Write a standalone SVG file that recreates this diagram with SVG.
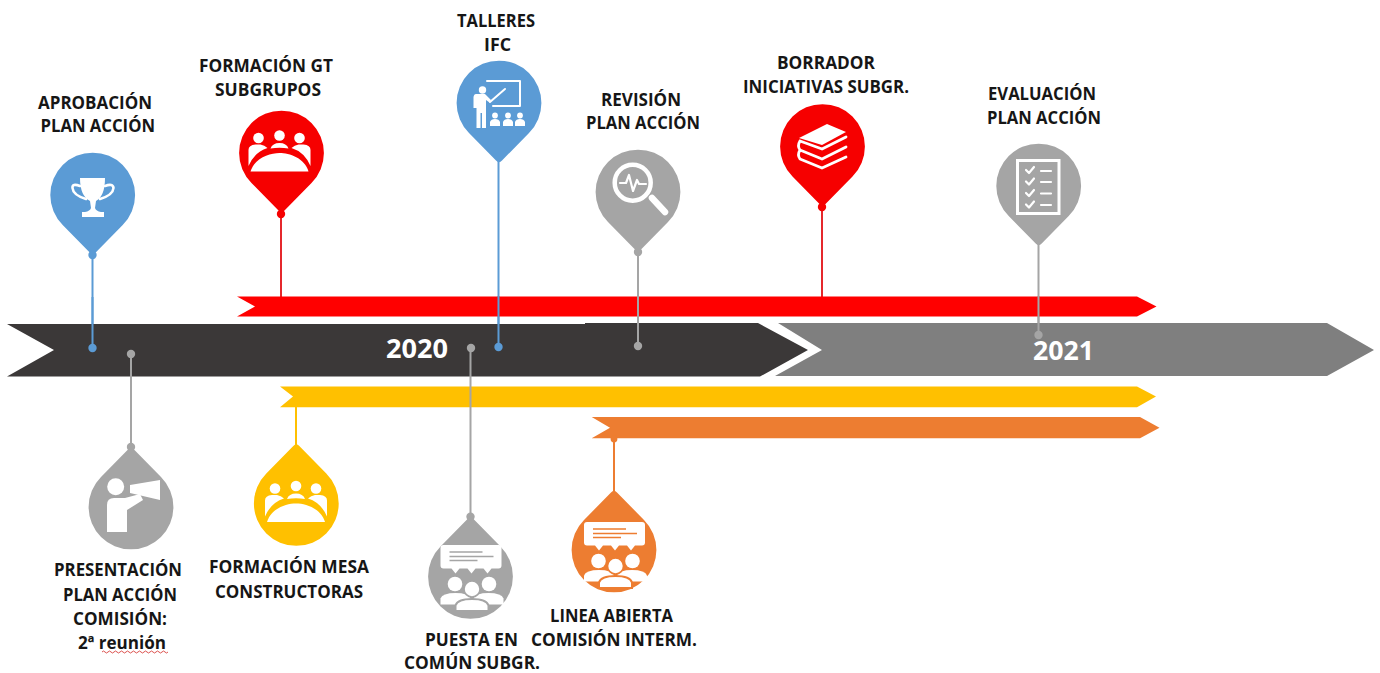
<svg xmlns="http://www.w3.org/2000/svg" width="1380" height="673" viewBox="0 0 1380 673">
<style>
.t{font-family:"Open Sans","Liberation Sans",sans-serif;font-weight:700;font-size:17.5px;fill:#161616}
.y{font-family:"Open Sans","Liberation Sans",sans-serif;font-weight:700;font-size:27px;fill:#fff}
.l{fill:none;stroke-width:2}
.ic{fill:#fff;stroke:none}
.icl{fill:none;stroke:#fff;stroke-linecap:round;stroke-linejoin:round}
.blue{color:#5b9bd5}.red{color:#f60000}.gray{color:#a5a5a5}.yellow{color:#ffc000}.orange{color:#ed7d31}
.pin{fill:currentColor}
</style>
<defs>
<path id="drop" d="M-30,30 A42.4,42.4 0 1 1 30,30 L3,57.5 Q0,61 -3,57.5 Z"/>
<g id="meeting">
<path class="ic" d="M-29,18.5 C-25,5 -10,0 0,0 C10,0 25,5 29,18.5 Z"/>
<circle class="ic" cx="-21" cy="-15" r="5.3"/><circle class="ic" cx="0" cy="-17.5" r="5.3"/><circle class="ic" cx="20" cy="-15" r="5.3"/>
<path class="ic" d="M-31,13 V-3 Q-31,-8 -24,-8.5 H-19 Q-15,-8 -12,-5 Q-25,-1 -31,13 Z"/>
<path class="ic" d="M31,13 V-3 Q31,-8 24,-8.5 H19 Q15,-8 12,-5 Q25,-1 31,13 Z"/>
<path class="ic" d="M-9,-4.5 Q-7,-10 0,-10 Q7,-10 9,-4.5 Q0,-6 -9,-4.5 Z"/>
</g>
<g id="chat">
<path class="ic" d="M-27,-31.5 H28 Q31,-31.5 31,-28.5 V-11 Q31,-8 28,-8 H21 L17,-3 L13,-8 H5 L1,-3 L-3,-8 H-11 L-15,-3 L-19,-8 H-27 Q-30,-8 -30,-11 V-28.5 Q-30,-31.5 -27,-31.5 Z"/>
<path fill="none" stroke="currentColor" stroke-width="1.3" d="M-21,-24.5 H12 M-21,-20 H23 M-21,-16 H7"/>
<circle class="ic" cx="-15.5" cy="7.5" r="7.3"/><circle class="ic" cx="18.5" cy="7.5" r="7.3"/>
<path class="ic" d="M-30,28 V22 Q-28,16.5 -15,16.5 Q-2,16.5 0,22 V28 Z"/>
<path class="ic" d="M3,28 V22 Q5,16.5 18,16.5 Q31,16.5 33,22 V28 Z"/>
<circle cx="1.5" cy="12.5" r="8" fill="#fff" stroke="currentColor" stroke-width="1.6"/>
<path d="M-15,34.5 V29 Q-13,22.5 1.5,22.5 Q16,22.5 18,29 V34.5 Z" fill="#fff" stroke="currentColor" stroke-width="2"/>
</g>
</defs>

<g id="connectors">
<path class="l" stroke="#5b9bd5" d="M92.5,250 V348"/>
<path class="l" stroke="#e5282c" d="M281,210 V298"/>
<path class="l" stroke="#5b9bd5" d="M498.5,158 V347"/>
<path class="l" stroke="#a5a5a5" d="M638,248 V346"/>
<path class="l" stroke="#e5282c" d="M822,205 V298"/>
<path class="l" stroke="#a5a5a5" d="M1038.5,242 V335"/>
</g>

<g id="bar-rojo"><path fill="#ff0000" d="M237,296.5 H1137 L1156.5,306.5 L1137,316.5 H237 L255,306.5 Z"/></g>
<g id="bar-2020"><path fill="#3b3838" d="M7,324 H585 V323 H758 L808,350 L760,376.5 H7 L54,350 Z"/></g>
<g id="bar-2021"><path fill="#7f7f7f" d="M778,323 H1327 L1374,350 L1327,376 H775 L822,350 Z"/></g>
<g id="bar-amarillo"><path fill="#ffc000" d="M280,386.5 H1137 L1156,396.5 L1137,407.3 H280 L293,396.5 Z"/></g>
<g id="bar-naranja"><path fill="#ed7d31" d="M591.7,417 H1140 L1159.5,427.7 L1140,438.3 H591.7 L610,427.7 Z"/></g>

<g id="connectors-2">
<path class="l" stroke="#5b9bd5" d="M92.5,297 V348"/>
<circle cx="92.5" cy="348" r="4.2" fill="#5b9bd5"/>
<path class="l" stroke="#5b9bd5" d="M498.5,296 V347"/>
<circle cx="498.5" cy="347" r="4.2" fill="#5b9bd5"/>
<path class="l" stroke="#a5a5a5" d="M638,296 V346"/>
<circle cx="638" cy="346" r="4.2" fill="#a5a5a5"/>
<path class="l" stroke="#a5a5a5" d="M1038.5,296 V335"/>
<circle cx="1038.5" cy="335" r="4.2" fill="#a5a5a5"/>
<path class="l" stroke="#a5a5a5" d="M131,353 V450"/>
<circle cx="131" cy="354" r="4.2" fill="#a5a5a5"/>
<path class="l" stroke="#ffc000" d="M296,407 V450"/>
<path class="l" stroke="#a5a5a5" d="M470.5,349 V520"/>
<circle cx="471" cy="348" r="4.2" fill="#a5a5a5"/>
<path class="l" stroke="#ed7d31" d="M614,438 V495"/>
<circle cx="614" cy="439" r="3.4" fill="#ed7d31"/>
</g>

<g id="year-2020"><text class="y" x="386" y="358" textLength="62" lengthAdjust="spacingAndGlyphs">2020</text></g>
<g id="year-2021"><text class="y" x="1033" y="360" textLength="61" lengthAdjust="spacingAndGlyphs">2021</text></g>

<g id="aprobacion" class="blue">
<use href="#drop" class="pin" transform="translate(92.7,195)"/>
<circle class="pin" cx="92.5" cy="255" r="4.2"/>
<path class="ic" d="M80,178 H105 Q105,196 96,201 L95,208 Q96,211 101,212 H104 V217 H82 V212 H85 Q90,211 91,208 L90,201 Q80,196 80,178 Z"/>
<path class="icl" stroke-width="2.6" d="M80,186 Q72,183 72.5,188 Q73,195 86,199 M105,186 Q113,183 113.5,188 Q113,195 100,199"/>
<text class="t" x="38" y="108.5" textLength="114" lengthAdjust="spacingAndGlyphs">APROBACIÓN</text>
<text class="t" x="40.5" y="132" textLength="114.5" lengthAdjust="spacingAndGlyphs">PLAN ACCIÓN</text>
</g>

<g id="formacion-gt" class="red">
<use href="#drop" class="pin" transform="translate(281.5,153)"/>
<circle class="pin" cx="281" cy="214" r="4.2"/>
<use href="#meeting" transform="translate(279.5,153)"/>
<text class="t" x="199" y="72" textLength="134" lengthAdjust="spacingAndGlyphs">FORMACIÓN GT</text>
<text class="t" x="215" y="96" textLength="106" lengthAdjust="spacingAndGlyphs">SUBGRUPOS</text>
</g>

<g id="talleres" class="blue">
<use href="#drop" class="pin" transform="translate(499,103)"/>
<path class="icl" stroke-width="2" stroke-linecap="butt" d="M487,81 H520 V106 H493"/>
<path class="icl" stroke-width="2" d="M490,102 L505,89"/>
<circle class="ic" cx="482.5" cy="90" r="3.7"/>
<path class="ic" d="M476,94 H485 L491,100 L489.5,102.5 L486,100 V128 H482 V113 H480.5 V128 H476.5 V108 H473.5 V97 Q474,94 476,94 Z"/>
<circle class="ic" cx="495" cy="115.5" r="2.9"/><circle class="ic" cx="508" cy="115.5" r="2.9"/><circle class="ic" cx="520" cy="115.5" r="2.9"/>
<path class="ic" d="M490,126 V122 Q491,119 495,119 Q499,119 500,122 V126 Z M503,126 V122 Q504,119 508,119 Q512,119 513,122 V126 Z M515,126 V122 Q516,119 520,119 Q524,119 525,122 V126 Z"/>
<text class="t" x="457" y="27" textLength="78" lengthAdjust="spacingAndGlyphs">TALLERES</text>
<text class="t" x="484" y="51" textLength="27" lengthAdjust="spacingAndGlyphs">IFC</text>
</g>

<g id="revision" class="gray">
<use href="#drop" class="pin" transform="translate(638,192)"/>
<circle class="pin" cx="638" cy="252" r="4.2"/>
<circle class="icl" cx="632.7" cy="182.7" r="18" stroke-width="4.5"/>
<path class="icl" stroke-width="2.2" d="M620,183 H626 L629,175 L633,191 L637,180 L639,184 H646"/>
<path class="icl" stroke-width="6.5" d="M652,198 L665,212"/>
<text class="t" x="601" y="106" textLength="80" lengthAdjust="spacingAndGlyphs">REVISIÓN</text>
<text class="t" x="586" y="129" textLength="114" lengthAdjust="spacingAndGlyphs">PLAN ACCIÓN</text>
</g>

<g id="borrador" class="red">
<use href="#drop" class="pin" transform="translate(822.5,146.5)"/>
<circle class="pin" cx="822" cy="207" r="4.2"/>
<path class="ic" d="M799,138 L827,124 L846,132 L822,145 Z"/>
<path class="icl" stroke-width="2.8" d="M800,141 L822,149 L846,137 M800,141 Q797,146 800,150 L822,159 L846,147 M800,150 Q797,155 800,159 L822,168 L846,157"/>
<text class="t" x="777" y="69" textLength="98" lengthAdjust="spacingAndGlyphs">BORRADOR</text>
<text class="t" x="743" y="93" textLength="166" lengthAdjust="spacingAndGlyphs">INICIATIVAS SUBGR.</text>
</g>

<g id="evaluacion" class="gray">
<use href="#drop" class="pin" transform="translate(1038.7,186)"/>
<rect x="1017.5" y="160.5" width="41.5" height="53" fill="none" stroke="#fff" stroke-width="3"/>
<path class="icl" stroke-width="2.2" d="M1026,170 L1029,173 L1034,167 M1026,181.5 L1029,184.5 L1034,178.5 M1026,193 L1029,196 L1034,190 M1026,204.5 L1029,207.5 L1034,201.5 M1041,171 H1051 M1041,182 H1051 M1041,193.5 H1051 M1041,205 H1051"/>
<text class="t" x="988" y="100" textLength="108" lengthAdjust="spacingAndGlyphs">EVALUACIÓN</text>
<text class="t" x="987" y="124" textLength="114" lengthAdjust="spacingAndGlyphs">PLAN ACCIÓN</text>
</g>

<g id="presentacion" class="gray">
<use href="#drop" class="pin" transform="translate(131,507) rotate(180)"/>
<circle class="pin" cx="131" cy="447" r="4.2"/>
<circle class="ic" cx="115.7" cy="486.7" r="8.5"/>
<path class="ic" d="M107,532 V505 Q107,498 114,498 H125 L140,494 L143,500 L127,510 V532 Z"/>
<path class="ic" d="M130,485 L160,480 V500 L130,493 Z"/>
<text class="t" x="54" y="576" textLength="128" lengthAdjust="spacingAndGlyphs">PRESENTACIÓN</text>
<text class="t" x="63" y="600.5" textLength="114" lengthAdjust="spacingAndGlyphs">PLAN ACCIÓN</text>
<text class="t" x="73" y="625" textLength="94" lengthAdjust="spacingAndGlyphs">COMISIÓN:</text>
<text class="t" x="78" y="649" textLength="88" lengthAdjust="spacingAndGlyphs">2ª reunión</text>
<path fill="none" stroke="#d8403c" stroke-width="0.9" d="M102,652 q1.5,-2 3,0 t3,0 t3,0 t3,0 t3,0 t3,0 t3,0 t3,0 t3,0 t3,0 t3,0 t3,0 t3,0 t3,0 t3,0 t3,0 t3,0 t3,0 t3,0 t3,0 t3,0 t3,0"/>
</g>

<g id="formacion-mesa" class="yellow">
<use href="#drop" class="pin" transform="translate(296.3,503.5) rotate(180)"/>
<use href="#meeting" transform="translate(296,503.5)"/>
<text class="t" x="209" y="573" textLength="160" lengthAdjust="spacingAndGlyphs">FORMACIÓN MESA</text>
<text class="t" x="215" y="597.5" textLength="148" lengthAdjust="spacingAndGlyphs">CONSTRUCTORAS</text>
</g>

<g id="puesta" class="gray">
<use href="#drop" class="pin" transform="translate(470.5,576.5) rotate(180)"/>
<circle class="pin" cx="470.5" cy="516.7" r="4.2"/>
<use href="#chat" transform="translate(470.5,576.5)"/>
<text class="t" x="425" y="645.5" textLength="93" lengthAdjust="spacingAndGlyphs">PUESTA EN</text>
<text class="t" x="404" y="669" textLength="136" lengthAdjust="spacingAndGlyphs">COMÚN SUBGR.</text>
</g>

<g id="linea" class="orange">
<use href="#drop" class="pin" transform="translate(614,550) rotate(180)"/>
<use href="#chat" transform="translate(614,553.5)"/>
<text class="t" x="550" y="622" textLength="123" lengthAdjust="spacingAndGlyphs">LINEA ABIERTA</text>
<text class="t" x="531" y="645.5" textLength="166" lengthAdjust="spacingAndGlyphs">COMISIÓN INTERM.</text>
</g>
</svg>
